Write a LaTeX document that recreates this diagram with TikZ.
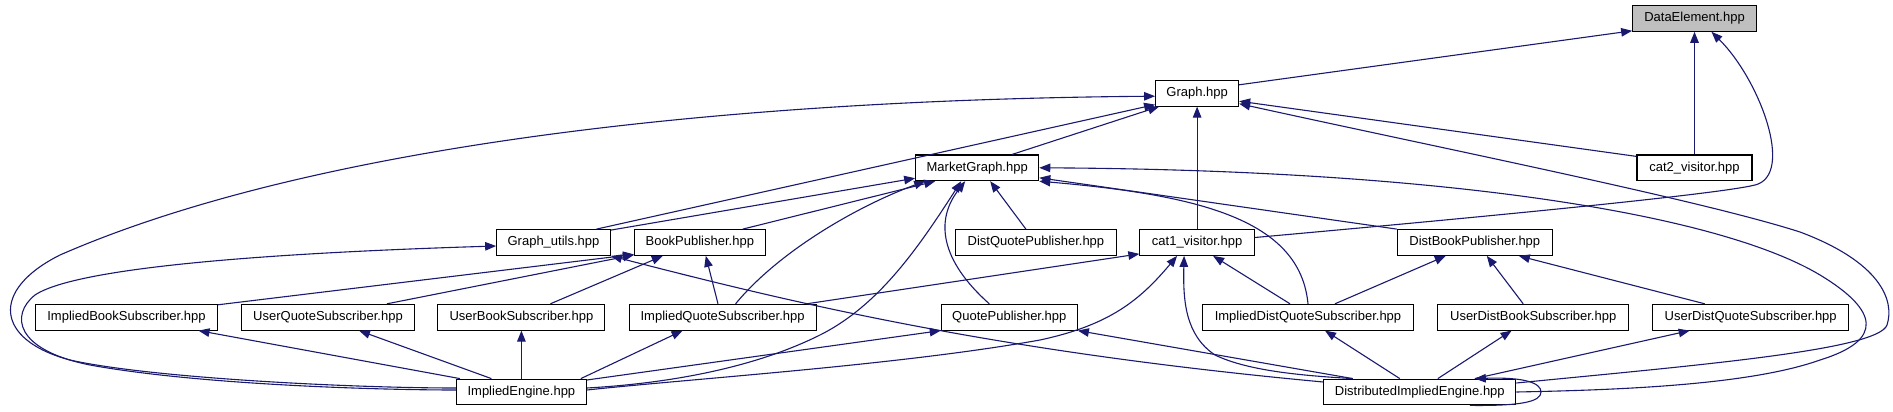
\documentclass[tikz,border=0pt]{standalone}
\usepackage{fontspec}
\setmainfont{Liberation Sans}
\usetikzlibrary{arrows.meta}
\definecolor{edgeblue}{HTML}{191970}
\definecolor{graybox}{HTML}{BFBFBF}
\begin{document}
\begin{tikzpicture}[x=1pt,y=-1pt,
  box/.style={draw=black, line width=1.1pt, fill=white, minimum height=25.7pt, inner sep=0pt,
    font=\fontsize{13}{15}\selectfont, text height=9.5pt, text depth=2.8pt},
  edg/.style={draw=edgeblue, line width=1.1pt, arrows={Triangle[length=11pt,width=8.5pt]-}}]
\fill[white] (0,0) rectangle (1893,412);
\useasboundingbox (0,0) rectangle (1893,412);

% nodes
\node[box, fill=graybox, minimum width=123.6pt] (data) at (1694.5,18.4) {DataElement.hpp};
\node[box, minimum width=83pt]    (graph)   at (1197.1,93.2)  {Graph.hpp};
\node[box, minimum width=123pt]   (market)  at (977.2,167.8)  {MarketGraph.hpp};
\node[box, minimum width=115pt]   (cat2)    at (1694.5,167.8) {cat2\_visitor.hpp};
\node[box, minimum width=113.6pt] (gutils)  at (553.5,242.5)  {Graph\_utils.hpp};
\node[box, minimum width=130.6pt] (bookpub) at (699.8,242.5)  {BookPublisher.hpp};
\node[box, minimum width=161pt]   (dqp)     at (1035.9,242.5) {DistQuotePublisher.hpp};
\node[box, minimum width=114.4pt] (cat1)    at (1197.1,242.5) {cat1\_visitor.hpp};
\node[box, minimum width=155pt]   (dbp)     at (1474.8,242.5) {DistBookPublisher.hpp};
\node[box, minimum width=181.6pt] (ibs)     at (126.5,317.2)  {ImpliedBookSubscriber.hpp};
\node[box, minimum width=172.5pt] (uqs)     at (328,317.2)    {UserQuoteSubscriber.hpp};
\node[box, minimum width=167pt]   (ubs)     at (521.4,317.2)  {UserBookSubscriber.hpp};
\node[box, minimum width=187pt]   (iqs)     at (722.6,317.2)  {ImpliedQuoteSubscriber.hpp};
\node[box, minimum width=136pt]   (qp)      at (1009.3,317.2) {QuotePublisher.hpp};
\node[box, minimum width=211pt]   (idqs)    at (1308,317.2)   {ImpliedDistQuoteSubscriber.hpp};
\node[box, minimum width=190.7pt] (udbs)    at (1533.2,317.2) {UserDistBookSubscriber.hpp};
\node[box, minimum width=196pt]   (udqs)    at (1750.7,317.2) {UserDistQuoteSubscriber.hpp};
\node[box, minimum width=129.8pt] (ie)      at (521.4,392)    {ImpliedEngine.hpp};
\node[box, minimum width=192pt]   (die)     at (1419.8,392)   {DistributedImpliedEngine.hpp};

% DataElement
\draw[edg] ([yshift=1pt]data.south west) -- ([yshift=-5pt]graph.north east);
\draw[edg] (data.south) -- (cat2.north);
\draw[edg] ([xshift=17pt]data.south) .. controls (1760,80) and (1795,175) .. (1755,185)
  .. controls (1715,195) and (1450,220) .. ([yshift=5pt]cat1.east);

% Graph
\draw[edg] ([xshift=-38pt]graph.south) -- ([xshift=35pt]market.north);
\draw[edg] ([yshift=2pt]graph.south west) -- ([xshift=43pt]gutils.north);
\draw[edg] ([yshift=-3pt]graph.west) .. controls (700,100) and (300,150) .. (60,255)
  .. controls (-10,290) and (-5,340) .. (70,360)
  .. controls (150,378) and (350,388) .. ([yshift=4pt]ie.west);
\draw[edg] (graph.south) -- (cat1.north);
\draw[edg] ([yshift=-8pt]graph.east) -- ([yshift=-2pt]cat2.north west);
\draw[edg] ([yshift=-10.5pt]graph.east) .. controls (1450,150) and (1700,200) .. (1800,232)
  .. controls (1880,262) and (1895,300) .. (1887,325)
  .. controls (1878,350) and (1700,365) .. ([yshift=9pt]die.east);

% MarketGraph
\draw[edg] ([yshift=3pt]market.south west) -- ([yshift=-1pt]gutils.north east);
\draw[edg] ([xshift=-42pt]market.south) -- ([xshift=43pt]bookpub.north);
\draw[edg] ([xshift=-52pt]market.south) .. controls (860,205) and (780,250) .. ([xshift=13pt]iqs.north);
\draw[edg] ([xshift=-16pt]market.south) .. controls (920,245) and (880,305) .. (820,335)
  .. controls (740,375) and (640,385) .. ([yshift=4pt]ie.east);
\draw[edg] ([xshift=-12pt]market.south) .. controls (935,220) and (940,260) .. ([xshift=-20pt]qp.north);
\draw[edg] ([xshift=13pt]market.south) -- ([xshift=-10pt]dqp.north);
\draw[edg] ([yshift=-10pt]market.east) -- (dbp.north west);
\draw[edg] (market.south east) .. controls (1200,195) and (1300,220) .. (idqs.north);
\draw[edg] (market.east) .. controls (1450,170) and (1720,215) .. (1820,275)
  .. controls (1878,310) and (1885,340) .. (1820,360)
  .. controls (1750,385) and (1620,390) .. (die.east);

% Graph_utils
\draw[edg] ([yshift=-3.5pt]gutils.west) .. controls (300,252) and (80,265) .. (35,295)
  .. controls (10,315) and (15,350) .. (90,365)
  .. controls (200,385) and (380,390) .. ([yshift=2pt]ie.west);
\draw[edg] (gutils.south east) .. controls (800,305) and (1000,352) .. ([yshift=10pt]die.west);

% BookPublisher
\draw[edg] ([yshift=1.5pt]bookpub.south west) -- ([yshift=-1pt]ibs.north east);
\draw[edg] ([yshift=1pt]bookpub.south west) -- ([xshift=59pt]uqs.north);
\draw[edg] ([xshift=-37pt]bookpub.south) -- ([xshift=29pt]ubs.north);
\draw[edg] ([xshift=6pt]bookpub.south) -- ([xshift=-4.6pt]iqs.north);

% cat1_visitor
\draw[edg] ([yshift=2pt]cat1.south west) -- ([xshift=-10pt]iqs.north east);
\draw[edg] ([xshift=-20pt]cat1.south) .. controls (1140,300) and (1110,325) .. (1040,340)
  .. controls (900,365) and (700,378) .. ([yshift=2pt]ie.east);
\draw[edg] ([xshift=-13pt]cat1.south) .. controls (1183,300) and (1185,335) .. (1215,355)
  .. controls (1250,372) and (1310,376) .. ([xshift=-67pt]die.north);
\draw[edg] ([xshift=16pt]cat1.south) -- ([xshift=-18pt]idqs.north);

% DistBookPublisher
\draw[edg] ([xshift=-29pt]dbp.south) -- ([xshift=27pt]idqs.north);
\draw[edg] ([xshift=12pt]dbp.south) -- ([xshift=-10pt]udbs.north);
\draw[edg] ([xshift=44pt]dbp.south) -- ([xshift=-46pt]udqs.north);

% QuotePublisher
\draw[edg] (qp.south west) -- ([yshift=12pt]ie.east);
\draw[edg] (qp.south east) -- ([xshift=-67pt]die.north);

% third row to engines
\draw[edg] ([xshift=-40pt]iqs.south) -- ([xshift=-6pt]ie.north east);
\draw[edg] ([xshift=72pt]ibs.south) -- ([xshift=4pt]ie.north west);
\draw[edg] ([xshift=31pt]uqs.south) -- ([xshift=-30pt]ie.north);
\draw[edg] (ubs.south) -- (ie.north);
\draw[edg] ([xshift=17pt]idqs.south) -- ([xshift=-20pt]die.north);
\draw[edg] ([xshift=-21.6pt]udbs.south) -- ([xshift=18pt]die.north);
\draw[edg] ([xshift=-61pt]udqs.south) -- ([xshift=55pt]die.north);

% self loop
\draw[edg] ([xshift=55pt]die.north) .. controls (1525,377) and (1541,383) .. (1541,392)
  .. controls (1541,402) and (1520,406) .. ([xshift=50pt]die.south);
\end{tikzpicture}
\end{document}
